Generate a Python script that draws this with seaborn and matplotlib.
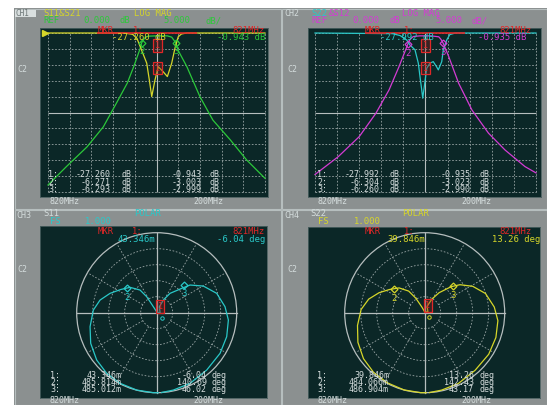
import numpy as np
import pandas as pd
import seaborn as sns
import matplotlib.pyplot as plt
from matplotlib.patches import Rectangle, Circle

# ---- values ----
# CH1  S11 & S21, log mag, 5 dB/div, centre 820 MHz, span 200 MHz
ch1_s21_freq = [720, 737, 756, 771, 783, 793, 799, 805, 806.4, 809, 812, 820, 830, 834,
                837.6, 840, 848, 860, 872, 888, 903, 920]
ch1_s21_db = [-47.8, -42.0, -35.8, -29.5, -22.1, -15.8, -10.6, -4.8, -3.0, -1.6, -1.0, -0.9,
              -0.9, -1.3, -3.0, -5.5, -10.6, -20.0, -27.4, -33.6, -39.9, -45.7]
ch1_s11_freq = [720, 790, 798, 802, 806.4, 811, 813.4, 815.6, 818.6, 821.6, 826.2, 830, 834,
                837, 840, 843, 848, 920]
ch1_s11_db = [0, 0, -0.4, -1.7, -5.5, -9.5, -14.8, -20.0, -14.8, -10.6, -12.2, -13.7, -9.5,
              -4.8, -1.2, -0.3, 0, 0]

# CH2  S22 & S12
ch2_s12_freq = [720, 741, 760, 775, 787, 796, 802, 804, 806, 809, 815, 825, 832, 834, 836,
                841, 850, 862, 877, 892, 910, 920]
ch2_s12_db = [-44.5, -38.9, -32.6, -25.3, -17.9, -10.6, -5.3, -3.5, -2.0, -1.1, -0.9, -0.9,
              -1.2, -2.0, -3.2, -7.4, -15.8, -24.2, -31.5, -36.8, -42.0, -44.0]
ch2_s22_freq = [720, 790, 797, 803, 806, 810.5, 813.5, 815, 816.6, 817.5, 818.9, 821.1, 824,
                827, 830, 831.6, 834.7, 836.1, 839.2, 842, 847, 920]
ch2_s22_db = [0, -0.2, -0.8, -2.2, -3.8, -5.3, -9.5, -13.7, -17.9, -20.5, -16.9, -11.1, -9.5,
              -9.0, -10.6, -11.6, -9.0, -5.3, -2.2, -0.5, 0, 0]

# CH3  S11 polar (real / imag of reflection coefficient)
ch3_re = [0.02, -0.042, -0.25, -0.458, -0.625, -0.75, -0.825, -0.833, -0.792, -0.708, -0.583,
          -0.45, -0.333, -0.208, -0.125, -0.042, 0.0, 0.043, 0.033, 0.083, 0.167, 0.313, 0.417,
          0.583, 0.75, 0.854, 0.896, 0.875, 0.792, 0.625, 0.417, 0.208, 0.06]
ch3_im = [-1.0, -1.0, -0.967, -0.883, -0.758, -0.592, -0.383, -0.175, 0.033, 0.158, 0.242,
          0.29, 0.317, 0.283, 0.2, 0.075, 0.01, -0.005, 0.075, 0.158, 0.242, 0.304, 0.346,
          0.333, 0.242, 0.075, -0.092, -0.3, -0.508, -0.717, -0.883, -0.967, -0.998]

# CH4  S22 polar
ch4_re = [0.02, -0.05, -0.26, -0.47, -0.64, -0.765, -0.835, -0.84, -0.795, -0.70, -0.57, -0.44,
          -0.32, -0.2, -0.11, -0.035, 0.0, 0.04, 0.03, 0.09, 0.18, 0.33, 0.44, 0.6, 0.76, 0.87,
          0.915, 0.89, 0.8, 0.63, 0.42, 0.21, 0.06]
ch4_im = [-1.0, -1.0, -0.965, -0.875, -0.745, -0.575, -0.37, -0.16, 0.04, 0.17, 0.25, 0.29,
          0.31, 0.27, 0.18, 0.07, 0.01, 0.01, 0.08, 0.17, 0.25, 0.325, 0.35, 0.33, 0.24, 0.07,
          -0.1, -0.31, -0.52, -0.72, -0.885, -0.968, -0.998]

# marker readouts
ch3_mkr_mag = [0.043346, 0.485814, 0.485012]
ch3_mkr_deg = [-6.04, 140.69, 46.02]
ch4_mkr_mag = [0.039846, 0.484066, 0.486904]
ch4_mkr_deg = [13.26, 142.43, 43.17]

ch1_readout = [('1:', '-27.260', '-0.943'), ('2:', '-6.271', '-3.003'), ('3:', '-6.293', '-2.999')]
ch2_readout = [('1:', '-27.992', '-0.935'), ('2:', '-6.304', '-3.023'), ('3:', '-6.260', '-2.990')]
ch3_readout = [('1:', '43.346m', '-6.04'), ('2:', '485.814m', '140.69'), ('3:', '485.012m', '46.02')]
ch4_readout = [('1:', '39.846m', '13.26'), ('2:', '484.066m', '142.43'), ('3:', '486.904m', '43.17')]

# ---- colours ----
GRAY = '#8b9090'
EDGE = '#b6bebe'
SCREEN = '#0b2727'
GRID = '#9aa6a6'
TXT = '#d4dcdc'
RED = '#e02828'
YEL = '#d6d62a'
GRN = '#2cc83a'
CYN = '#2ac8c8'
MAG = '#d43cd4'

W, H = 547, 405
fig = plt.figure(figsize=(W / 100, H / 100), dpi=100)
plt.rcParams['font.family'] = 'DejaVu Sans Mono'


def put(x, y, s, c=TXT, ha='left', size=6.4):
    fig.text(x / W, 1 - y / H, s, color=c, ha=ha, va='center', fontsize=size,
             family='DejaVu Sans Mono')


def px_axes(x0, y0, x1, y1):
    ax = fig.add_axes([x0 / W, 1 - y1 / H, (x1 - x0) / W, (y1 - y0) / H])
    ax.set_facecolor(SCREEN)
    ax.set_xticks([])
    ax.set_yticks([])
    for s in ax.spines.values():
        s.set_color('#4a6060')
        s.set_linewidth(0.6)
    return ax


bg = fig.add_axes([0, 0, 1, 1])
bg.set_xlim(0, W)
bg.set_ylim(H, 0)
bg.axis('off')
bg.add_patch(Rectangle((14, 8), W - 14, H - 8, fc=GRAY, ec='none'))
for x0, y0, x1, y1 in [(14, 8, 280, 208), (281, 8, 546, 208), (14, 209, 280, 404), (281, 209, 546, 404)]:
    bg.add_patch(Rectangle((x0 + 0.5, y0 + 0.5), x1 - x0, y1 - y0, fc='none', ec=EDGE, lw=0.8))


def logmag_axes(box, grid):
    bx0, by0, bx1, by1 = box
    gx0, gy0, gx1, gy1 = grid
    ax = px_axes(*box)
    sx = (gx1 - gx0) / 200
    sy = (gy1 - gy0) / 50
    ax.set_xlim(720 - (gx0 - bx0) / sx, 920 + (bx1 - gx1) / sx)
    ax.set_ylim(-50 - (by1 - gy1) / sy, (gy0 - by0) / sy)
    for f in range(720, 921, 20):
        if f == 820:
            ax.vlines(f, -50, 0, color=EDGE, lw=0.8)
        else:
            ax.vlines(f, -50, 0, color=GRID, lw=0.6, ls=(0, (2, 2)))
    for d in range(-50, 1, 5):
        if d == -25:
            ax.hlines(d, 720, 920, color=EDGE, lw=0.8)
        else:
            ax.hlines(d, 720, 920, color=GRID, lw=0.6, ls=(0, (2, 2)))
    return ax


def polar_axes(box, centre):
    bx0, by0, bx1, by1 = box
    cx, cy = centre
    ax = px_axes(*box)
    ax.set_xlim((bx0 - cx) / 80, (bx1 - cx) / 80)
    ax.set_ylim((cy - by1) / 80, (cy - by0) / 80)
    for r in [0.2, 0.4, 0.6, 0.8]:
        ax.add_patch(Circle((0, 0), r, fc='none', ec=GRID, lw=0.6, ls=(0, (2, 2))))
    ax.add_patch(Circle((0, 0), 1, fc='none', ec=EDGE, lw=0.9))
    for a in [30, 60, 120, 150, 210, 240, 300, 330]:
        t = np.radians(a)
        ax.plot([0.2 * np.cos(t), np.cos(t)], [0.2 * np.sin(t), np.sin(t)],
                color=GRID, lw=0.6, ls=(0, (2, 2)))
    ax.plot([-1, 1], [0, 0], color=EDGE, lw=0.9)
    ax.plot([0, 0], [-1, 1], color=EDGE, lw=0.9)
    return ax


def trace(ax, x, y, color, sort=True):
    df = pd.DataFrame({'x': x, 'y': y})
    sns.lineplot(data=df, x='x', y='y', color=color, lw=0.9, sort=sort, estimator=None, ax=ax, zorder=4)
    ax.set_xlabel('')
    ax.set_ylabel('')


def mkr(ax, x, y, label, color):
    ax.plot(x, y, marker='D', ms=3.5, mfc='none', mec=color, mew=0.9, zorder=5)
    ax.annotate(label, (x, y), xytext=(0, -9), textcoords='offset pixels', color=color,
                fontsize=6.5, ha='center', va='center', zorder=5)


def mkr1(ax, x, y):
    ax.text(x, y, '1', color=RED, fontsize=6, ha='center', va='center', zorder=6,
            bbox=dict(boxstyle='square,pad=0.2', fc=(0.55, 0.1, 0.1, 0.35), ec=RED, lw=0.9))


# ---- CH1 ----
ax1 = logmag_axes((40, 28, 268, 197), (48, 33, 265, 192))
ax1.hlines(0, 765, 857, color=RED, lw=1.2, zorder=5)
trace(ax1, ch1_s21_freq, ch1_s21_db, GRN)
trace(ax1, ch1_s11_freq, ch1_s11_db, YEL)
ax1.plot(717, 0, marker='>', ms=4, color=YEL, zorder=6)
mkr(ax1, ch1_s21_freq[8], ch1_s21_db[8], '2', GRN)
mkr(ax1, ch1_s21_freq[14], ch1_s21_db[14], '3', GRN)
mkr1(ax1, 821, -3.9)
mkr1(ax1, 821, -11.1)

# ---- CH2 ----
ax2 = logmag_axes((308, 28, 541, 197), (315, 33, 536, 192))
ax2.hlines(0, 765, 856, color=RED, lw=1.2, zorder=5)
trace(ax2, ch2_s12_freq, ch2_s12_db, MAG)
trace(ax2, ch2_s22_freq, ch2_s22_db, CYN)
mkr(ax2, ch2_s12_freq[7], ch2_s12_db[7], '2', MAG)
mkr(ax2, ch2_s12_freq[14], ch2_s12_db[14], '3', MAG)
mkr1(ax2, 820, -3.9)
mkr1(ax2, 820, -11.1)

# ---- CH3 / CH4 polar ----
ax3 = polar_axes((40, 226, 267, 398), (156.7, 312.7))
trace(ax3, ch3_re, ch3_im, CYN, sort=False)
ax4 = polar_axes((308, 227, 540, 398), (424.7, 312.7))
trace(ax4, ch4_re, ch4_im, YEL, sort=False)
for ax, mags, degs, col in [(ax3, ch3_mkr_mag, ch3_mkr_deg, CYN), (ax4, ch4_mkr_mag, ch4_mkr_deg, YEL)]:
    re = np.array(mags) * np.cos(np.radians(degs))
    im = np.array(mags) * np.sin(np.radians(degs))
    mkr(ax, re[1], im[1], '2', col)
    mkr(ax, re[2], im[2], '3', col)
    mkr1(ax, re[0], im[0] + 0.08)
    ax.plot(re[0] + 0.02, im[0] - 0.06, marker='o', ms=2.5, mfc='none', mec=col, mew=0.7, zorder=5)

# ---- header text ----
bg.add_patch(Rectangle((15, 10), 21, 7, fc='#d8dede', ec='none'))
put(16, 13.5, 'CH1', '#6c7676', size=5.5)
put(43, 13, 'S11&S21', YEL)
put(134, 13, 'LOG MAG', YEL)
for x, s in [(43, 'REF'), (83, '0.000'), (120, 'dB'), (163, '5.000'), (205, 'dB/')]:
    put(x, 20.5, s, GRN)
put(17, 69, 'C2', TXT, size=6)

put(284, 13, 'CH2', TXT, size=6)
put(311, 13, 'S22', CYN)
put(329, 13, '&S12', MAG)
put(402, 13, 'LOG MAG', MAG)
for x, s in [(311, 'REF'), (352, '0.000'), (389, 'dB'), (435, '5.000'), (472, 'dB/')]:
    put(x, 20.5, s, MAG)
put(287, 69, 'C2', TXT, size=6)

put(16, 215, 'CH3', TXT, size=6)
put(43, 213.5, 'S11', TXT)
put(134, 214, 'POLAR', CYN)
put(50, 221.5, 'FS', CYN)
put(85, 221.5, '1.000', CYN)
put(17, 269, 'C2', TXT, size=6)

put(284, 215, 'CH4', TXT, size=6)
put(310, 213.5, 'S22', TXT)
put(402, 214, 'POLAR', YEL)
put(318, 221.5, 'FS', YEL)
put(354, 221.5, '1.000', YEL)
put(287, 269, 'C2', TXT, size=6)

# marker header lines inside the screens
for x0, x1, x2, y in [(98, 133, 265, 30.5), (365, 404, 532, 30.5), (98, 132, 265, 231.5), (365, 404, 532, 231.5)]:
    put(x0, y, 'MKR', RED)
    put(x1, y, '1:', RED)
    put(x2, y, '821MHz', RED, ha='right')
put(112, 38, '-27.260 dB', YEL)
put(265, 38, '-0.943 dB', GRN, ha='right')
put(380, 38, '-27.992 dB', CYN)
put(526, 38, '-0.935 dB', MAG, ha='right')
put(117, 239.5, '43.346m', CYN)
put(265, 239.5, '-6.04 deg', CYN, ha='right')
put(387, 239.5, '39.846m', YEL)
put(540, 239.5, '13.26 deg', YEL, ha='right')

# marker readout tables
for x0, rows, y0 in [(48, ch1_readout, 175), (317, ch2_readout, 175)]:
    for i, (a, b, c) in enumerate(rows):
        y = y0 + i * 7.5
        put(x0, y, a, size=6)
        put(x0 + 63, y, b, ha='right', size=6)
        put(x0 + 73, y, 'dB', size=6)
        put(x0 + 154, y, c, ha='right', size=6)
        put(x0 + 162, y, 'dB', size=6)
for x0, rows, y0 in [(50, ch3_readout, 375), (317, ch4_readout, 375)]:
    for i, (a, b, c) in enumerate(rows):
        y = y0 + i * 7.5
        put(x0, y, a, size=6)
        put(x0 + 72, y, b, ha='right', size=6)
        put(x0 + 157, y, c, ha='right', size=6)
        put(x0 + 162, y, 'deg', size=6)

for x0, y in [(50, 202), (318, 202), (50, 400.5), (318, 400.5)]:
    put(x0, y, '820MHz', size=6)
    put(x0 + 143, y, '200MHz', size=6)

fig.savefig('out.png', dpi=100)
